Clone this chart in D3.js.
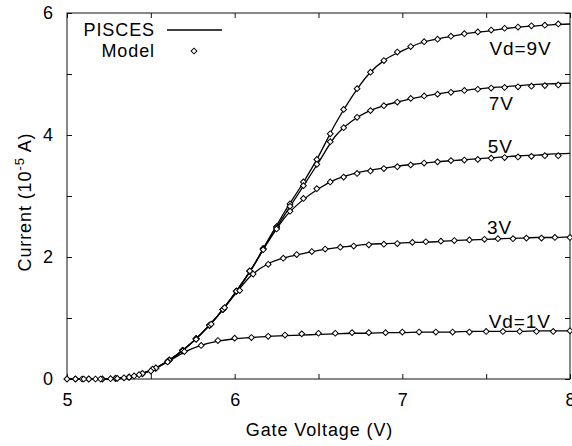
<!DOCTYPE html>
<html>
<head>
<meta charset="utf-8">
<script src="https://cdn.jsdelivr.net/npm/d3@7"></script>
<style>
  html, body { margin: 0; padding: 0; background: #fff; }
  svg { display: block; }
  text { font-family: "Liberation Sans", Arial, sans-serif; fill: #000; }
</style>
</head>
<body>
<svg id="chart" width="572" height="446"></svg>
<script>
// ---------- DATA ----------
// Axis ticks
const xTicks = [5, 5.5, 6, 6.5, 7, 7.5, 8];
const xTickLabels = [5, 6, 7, 8];
const yTicks = [0, 1, 2, 3, 4, 5, 6];
const yTickLabels = [0, 2, 4, 6];

// PISCES simulation (solid lines), gate voltage grid
const piscesVg = [5.0,5.1,5.2,5.3,5.4,5.5,5.6,5.7,5.8,5.9,6.0,6.1,6.2,6.3,6.4,6.5,6.6,6.7,6.8,6.9,7.0,7.1,7.2,7.3,7.4,7.5,7.6,7.7,7.8,7.9,8.0];
const pisces9V = [0,0,0,0.015,0.05,0.14,0.29,0.49,0.74,1.04,1.40,1.80,2.28,2.75,3.18,3.65,4.18,4.63,5.00,5.24,5.38,5.50,5.57,5.62,5.67,5.70,5.74,5.77,5.79,5.81,5.82];
const pisces7V = [0,0,0,0.015,0.05,0.14,0.29,0.49,0.74,1.04,1.40,1.80,2.27,2.70,3.12,3.55,3.98,4.23,4.39,4.49,4.56,4.62,4.67,4.71,4.74,4.77,4.79,4.81,4.83,4.84,4.85];
const pisces5V = [0,0,0,0.015,0.05,0.14,0.29,0.49,0.74,1.04,1.40,1.80,2.25,2.65,2.92,3.12,3.27,3.36,3.42,3.46,3.50,3.53,3.56,3.58,3.60,3.62,3.64,3.66,3.67,3.69,3.70];
const pisces3V = [0,0,0,0.015,0.05,0.14,0.29,0.49,0.74,1.04,1.38,1.70,1.89,1.99,2.05,2.11,2.15,2.18,2.21,2.22,2.23,2.24,2.25,2.27,2.28,2.29,2.30,2.31,2.32,2.32,2.33];
const pisces1V = [0,0,0,0.015,0.05,0.14,0.28,0.44,0.55,0.62,0.66,0.68,0.70,0.71,0.72,0.73,0.74,0.75,0.75,0.76,0.76,0.77,0.77,0.77,0.78,0.78,0.78,0.78,0.79,0.79,0.79];

// Model (diamonds)
const modelVgA = [5.05,5.13,5.21,5.29,5.37,5.45,5.53,5.61,5.69,5.77,5.85,5.93,6.01,6.09,6.17,6.25,6.33,6.41,6.49,6.57,6.65,6.73,6.81,6.89,6.97,7.05,7.13,7.21,7.29,7.37,7.45,7.53,7.61,7.69,7.77,7.85,7.93];
const model9V = [0,0,0,0.01,0.03,0.09,0.18,0.31,0.47,0.66,0.88,1.14,1.44,1.77,2.14,2.50,2.87,3.23,3.60,4.02,4.42,4.76,5.03,5.22,5.36,5.45,5.53,5.57,5.62,5.66,5.69,5.72,5.75,5.77,5.79,5.80,5.82];
const model7V = [0,0,0,0.01,0.03,0.09,0.18,0.31,0.47,0.66,0.88,1.14,1.44,1.77,2.13,2.48,2.83,3.17,3.52,3.89,4.12,4.29,4.40,4.48,4.54,4.60,4.64,4.67,4.70,4.73,4.75,4.77,4.78,4.79,4.80,4.81,4.82];
const model5V = [0,0,0,0.01,0.03,0.09,0.18,0.31,0.47,0.66,0.88,1.14,1.44,1.77,2.12,2.46,2.75,2.96,3.12,3.23,3.31,3.37,3.41,3.45,3.48,3.51,3.54,3.56,3.58,3.59,3.60,3.62,3.63,3.64,3.65,3.66,3.66];
const modelVg3 = [5.00,5.09,5.17,5.26,5.34,5.43,5.51,5.60,5.69,5.77,5.86,5.94,6.03,6.11,6.20,6.29,6.37,6.46,6.54,6.63,6.71,6.80,6.89,6.97,7.06,7.14,7.23,7.31,7.40,7.49,7.57,7.66,7.74,7.83,7.91,8.00];
const model3V = [0,0,0,0.005,0.02,0.07,0.16,0.29,0.46,0.65,0.90,1.17,1.45,1.72,1.88,1.98,2.04,2.09,2.13,2.16,2.18,2.20,2.21,2.22,2.24,2.25,2.26,2.27,2.28,2.29,2.30,2.30,2.31,2.31,2.32,2.32];
const modelVg1 = [5.0,5.1,5.2,5.3,5.4,5.5,5.6,5.7,5.8,5.9,6.0,6.1,6.2,6.3,6.4,6.5,6.6,6.7,6.8,6.9,7.0,7.1,7.2,7.3,7.4,7.5,7.6,7.7,7.8,7.9,8.0];
const model1V = [0,0,0,0.01,0.05,0.13,0.28,0.45,0.55,0.63,0.67,0.68,0.70,0.72,0.74,0.75,0.75,0.76,0.76,0.76,0.77,0.77,0.77,0.77,0.77,0.78,0.78,0.78,0.78,0.78,0.79];

// Curve annotations (anchor in data units)
const curveLabels = ["Vd=9V", "7V", "5V", "3V", "Vd=1V"];
const curveLabelVg = [7.52, 7.515, 7.51, 7.505, 7.515];
const curveLabelI = [5.31, 4.41, 3.70, 2.38, 0.84];

// ---------- CHART ----------
const svg = d3.select("#chart");
const margin = {left: 67, right: 2, top: 13, bottom: 67};
const W = 572, H = 446;
const x = d3.scaleLinear().domain([5, 8]).range([margin.left, W - margin.right]);
const y = d3.scaleLinear().domain([0, 6]).range([H - margin.bottom, margin.top]);

const FS = 18;
const LS = "0.9px";

// Frame
svg.append("rect")
  .attr("x", x(5)).attr("y", y(6))
  .attr("width", x(8) - x(5)).attr("height", y(0) - y(6))
  .attr("fill", "none").attr("stroke", "#111").attr("stroke-width", 1);

function styleAxis(g) {
  g.select(".domain").remove();
  g.selectAll(".tick line").attr("stroke", "#111");
  g.selectAll(".tick text").attr("font-size", FS).attr("fill", "#000")
    .attr("font-family", "Liberation Sans, Arial, sans-serif");
}
const xFmt = d => xTickLabels.includes(d) ? d3.format("d")(d) : "";
const yFmt = d => yTickLabels.includes(d) ? d3.format("d")(d) : "";

svg.append("g").attr("transform", `translate(0,${y(0)})`)
  .call(d3.axisBottom(x).tickValues(xTicks).tickSize(-5).tickPadding(14).tickFormat(xFmt))
  .call(styleAxis);
svg.append("g").attr("transform", `translate(0,${y(6)})`)
  .call(d3.axisTop(x).tickValues(xTicks).tickSize(-5).tickFormat(() => ""))
  .call(styleAxis);
svg.append("g").attr("transform", `translate(${x(5)},0)`)
  .call(d3.axisLeft(y).tickValues(yTicks).tickSize(-5).tickPadding(14).tickFormat(yFmt))
  .call(styleAxis);
svg.append("g").attr("transform", `translate(${x(8)},0)`)
  .call(d3.axisRight(y).tickValues(yTicks).tickSize(-5).tickFormat(() => ""))
  .call(styleAxis);

// Axis titles
svg.append("text")
  .attr("x", (x(5) + x(8)) / 2 + 1).attr("y", 436)
  .attr("text-anchor", "middle").attr("font-size", FS).style("letter-spacing", LS)
  .text("Gate Voltage (V)");

const yt = svg.append("text")
  .attr("transform", `translate(31,${(y(0) + y(6)) / 2 + 6}) rotate(-90)`)
  .attr("text-anchor", "middle").attr("font-size", FS).style("letter-spacing", LS);
yt.append("tspan").text("Current (10");
yt.append("tspan").attr("font-size", 13).attr("dy", -7).text("-5");
yt.append("tspan").attr("dy", 7).text(" A)");

// PISCES lines
const line = d3.line()
  .x(d => x(d[0])).y(d => y(d[1]))
  .curve(d3.curveMonotoneX);
const piscesSeries = [pisces9V, pisces7V, pisces5V, pisces3V, pisces1V];
svg.append("g").selectAll("path")
  .data(piscesSeries)
  .join("path")
  .attr("d", s => line(piscesVg.map((v, i) => [v, s[i]])))
  .attr("fill", "none").attr("stroke", "#000").attr("stroke-width", 1.3);

// Model diamonds
const diamond = d3.symbol().type(d3.symbolSquare).size(17);
const modelSeries = [
  [modelVgA, model9V], [modelVgA, model7V], [modelVgA, model5V],
  [modelVg3, model3V], [modelVg1, model1V]
];
const mg = svg.append("g");
modelSeries.forEach(([vg, vals]) => {
  mg.append("g").selectAll("path")
    .data(vg.map((v, i) => [v, vals[i]]))
    .join("path")
    .attr("d", diamond)
    .attr("transform", d => `translate(${x(d[0])},${y(d[1])}) rotate(45)`)
    .attr("fill", "#fff").attr("stroke", "#000").attr("stroke-width", 1);
});

// Curve labels
svg.append("g").selectAll("text")
  .data(curveLabels)
  .join("text")
  .attr("x", (d, i) => x(curveLabelVg[i]))
  .attr("y", (d, i) => y(curveLabelI[i]))
  .attr("font-size", 19).style("letter-spacing", LS)
  .text(d => d);

// Legend
const lg = svg.append("g");
lg.append("text").attr("x", 155).attr("y", 36).attr("text-anchor", "end")
  .attr("font-size", FS).style("letter-spacing", LS).text("PISCES");
lg.append("line").attr("x1", 167).attr("x2", 222).attr("y1", 30).attr("y2", 30)
  .attr("stroke", "#000").attr("stroke-width", 1.3);
lg.append("text").attr("x", 155).attr("y", 57).attr("text-anchor", "end")
  .attr("font-size", FS).style("letter-spacing", LS).text("Model");
lg.append("path").attr("d", diamond)
  .attr("transform", "translate(194,51) rotate(45)")
  .attr("fill", "#fff").attr("stroke", "#000").attr("stroke-width", 1);
</script>
</body>
</html>
